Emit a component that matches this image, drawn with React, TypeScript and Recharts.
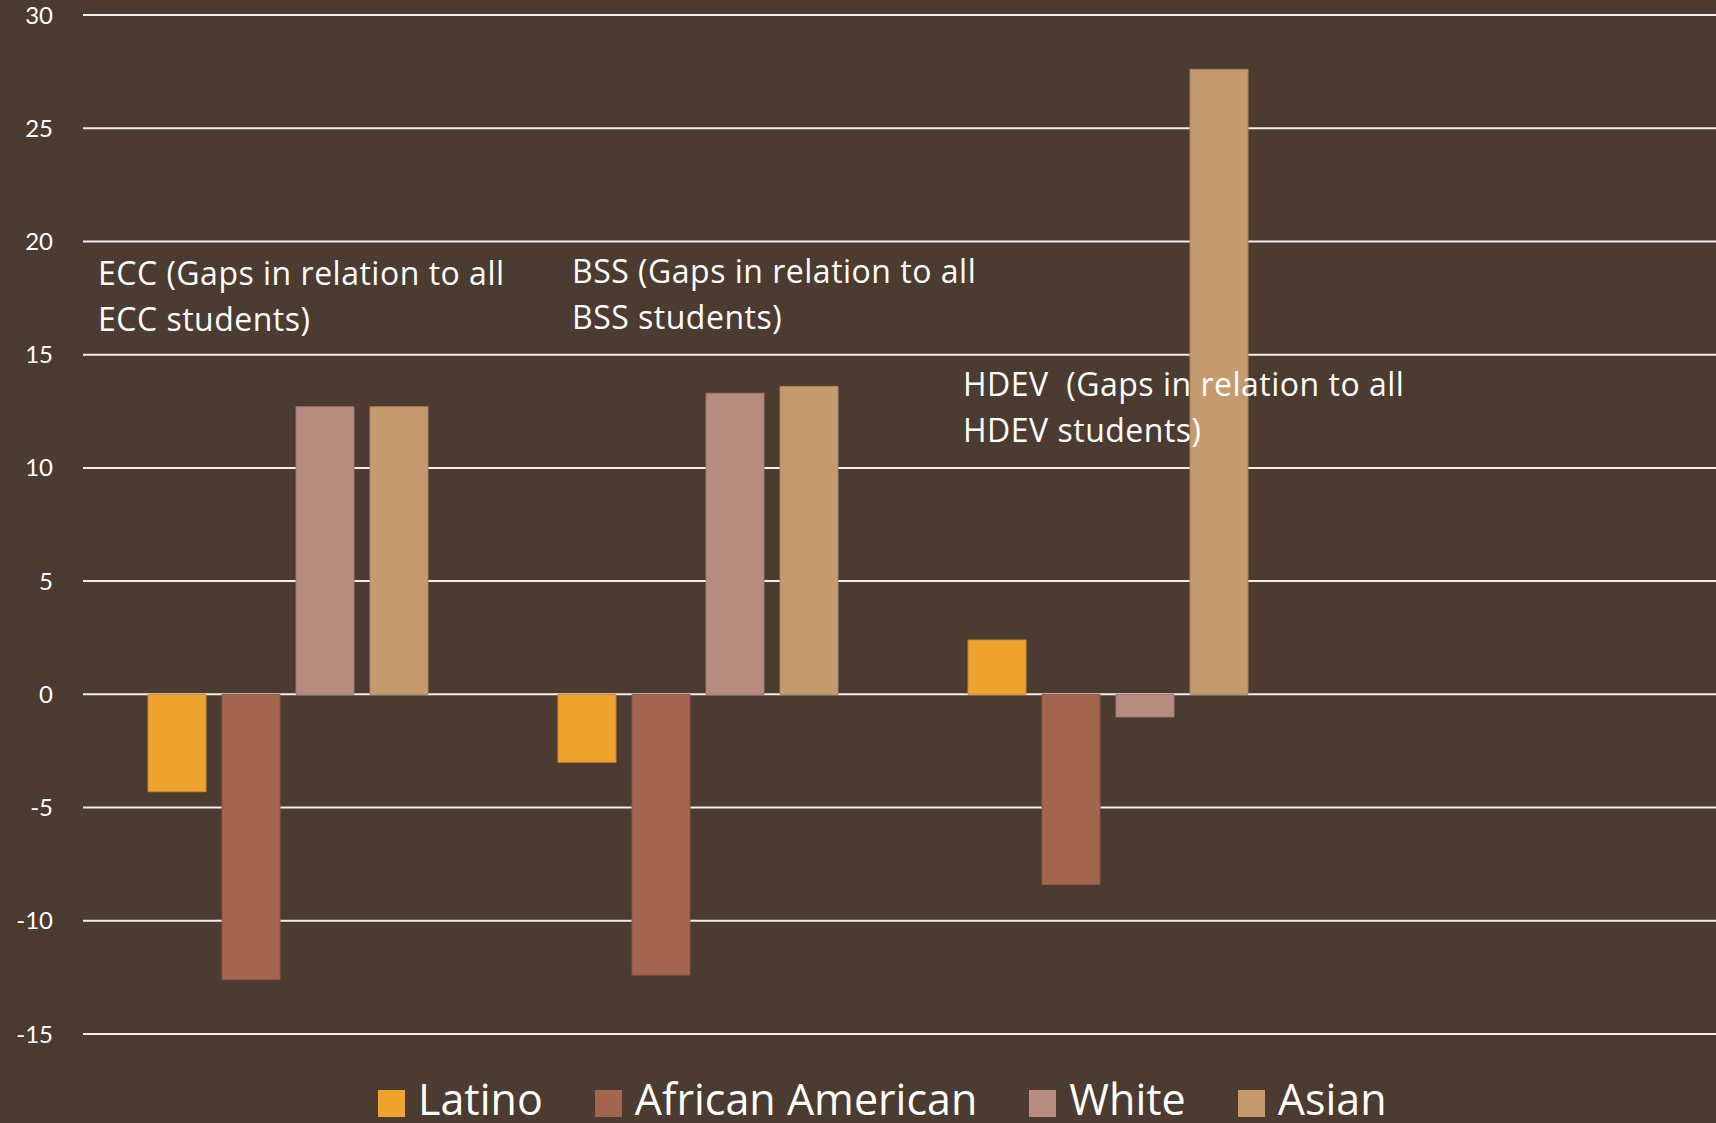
import React from 'react';
import { BarChart, Bar, XAxis, YAxis, CartesianGrid, Legend } from 'recharts';

const categories = ['ECC', 'BSS', 'HDEV', ''];
const latino = [-4.3, -3.0, 2.4, null];
const africanAmerican = [-12.6, -12.4, -8.4, null];
const white = [12.7, 13.3, -1.0, null];
const asian = [12.7, 13.6, 27.6, null];
const seriesNames = ['Latino', 'African American', 'White', 'Asian'];
const yTicks = [-15, -10, -5, 0, 5, 10, 15, 20, 25, 30];

const notes = [
  { lines: ['ECC (Gaps in relation to all', 'ECC students)'], x: 98, y: 285 },
  { lines: ['BSS (Gaps in relation to all', 'BSS students)'], x: 572, y: 283 },
  { lines: ['HDEV  (Gaps in relation to all', 'HDEV students)'], x: 963, y: 396 },
];

const data = categories.map((name, i) => ({
  name,
  latino: latino[i],
  africanAmerican: africanAmerican[i],
  white: white[i],
  asian: asian[i],
}));

const BG = '#4b3b30';
const TEXT_FONT = '"Open Sans", Lato, sans-serif';
const TICK_FONT = 'Lato, "Open Sans", sans-serif';

const renderLegend = ({ payload }: any) => {
  const items = [...(payload || [])].sort(
    (a: any, b: any) => seriesNames.indexOf(a.value) - seriesNames.indexOf(b.value)
  );
  return (
    <div style={{ display: 'flex', alignItems: 'center', paddingLeft: 378 }}>
      {items.map((entry: any, i: number) => (
        <div key={i} style={{ display: 'flex', alignItems: 'center', marginRight: 52 }}>
          <span style={{ width: 27, height: 27, background: entry.color, display: 'inline-block', marginRight: 13, marginTop: 8 }} />
          <span style={{ color: '#ffffff', fontSize: 43, lineHeight: '44px', fontFamily: TEXT_FONT }}>{entry.value}</span>
        </div>
      ))}
    </div>
  );
};

export default function App() {
  return (
    <div style={{ position: 'fixed', left: 0, top: 0, width: 1716, height: 1123, overflow: 'hidden', background: BG }}>
      <BarChart
        width={1723}
        height={1123}
        data={data}
        margin={{ top: 15, right: 0, left: 0, bottom: 89 }}
        barGap={16}
        barSize={58}
      >
        <CartesianGrid horizontal vertical={false} stroke="#f4efeb" strokeWidth={2} />
        <XAxis dataKey="name" hide />
        <YAxis
          domain={[-15, 30]}
          ticks={yTicks}
          interval={0}
          axisLine={false}
          tickLine={false}
          tickSize={0}
          tickMargin={30}
          width={83}
          tick={{ fill: '#ffffff', fontSize: 24, fontFamily: TICK_FONT }}
        />
        <Legend verticalAlign="middle" itemSorter={null as any} content={renderLegend} wrapperStyle={{ top: 1077, left: 0, width: 1716 }} />
        <Bar dataKey="latino" name="Latino" fill="#efa32f" stroke="#c98a2e" strokeWidth={1} isAnimationActive={false} />
        <Bar dataKey="africanAmerican" name="African American" fill="#a4654f" stroke="#8a5645" strokeWidth={1} isAnimationActive={false} />
        <Bar dataKey="white" name="White" fill="#b78c80" stroke="#9c776d" strokeWidth={1} isAnimationActive={false} />
        <Bar dataKey="asian" name="Asian" fill="#c49a6e" stroke="#a8845e" strokeWidth={1} isAnimationActive={false} />
      </BarChart>
      {/* text boxes sit on top of the bars, like in the slide */}
      <svg width={1716} height={1123} style={{ position: 'absolute', left: 0, top: 0, pointerEvents: 'none' }}>
        {notes.map((n, i) => (
          <text key={i} x={n.x} y={n.y} fill="#ffffff" fontSize={32} letterSpacing={0.5} fontFamily={TEXT_FONT} style={{ whiteSpace: 'pre' }}>
            {n.lines.map((l, j) => (
              <tspan key={j} x={n.x} dy={j === 0 ? 0 : 46}>{l}</tspan>
            ))}
          </text>
        ))}
      </svg>
    </div>
  );
}
